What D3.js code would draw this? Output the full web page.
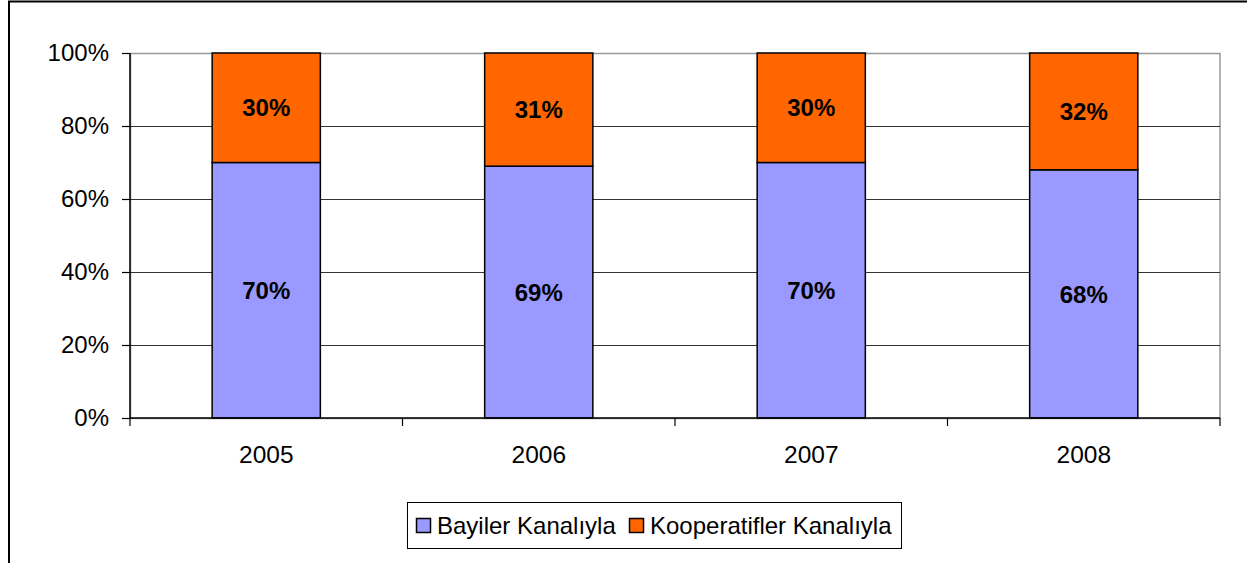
<!DOCTYPE html>
<html>
<head>
<meta charset="utf-8">
<script src="https://cdn.jsdelivr.net/npm/d3@7"></script>
<style>
  html, body { margin: 0; padding: 0; background: #fff; }
  svg { display: block; }
  text { font-family: "Liberation Sans", Arial, sans-serif; }
</style>
</head>
<body>
<svg id="chart" width="1247" height="563"></svg>
<script>
const categories = ["2005", "2006", "2007", "2008"];
const seriesNames = ["Bayiler Kanalıyla", "Kooperatifler Kanalıyla"];
const bayiler = [70, 69, 70, 68];
const kooperatifler = [30, 31, 30, 32];
const yTicks = [0, 20, 40, 60, 80, 100];
const colors = ["#9999FF", "#FF6600"];

const svg = d3.select("#chart");
const W = 1247, H = 563;

// outer frame (left and top edges visible)
svg.append("line").attr("x1", 9).attr("x2", 9).attr("y1", 1).attr("y2", H).attr("stroke", "#000").attr("stroke-width", 2);
svg.append("line").attr("x1", 8).attr("x2", W).attr("y1", 1.5).attr("y2", 1.5).attr("stroke", "#000").attr("stroke-width", 2);

const plot = { left: 130, right: 1220, top: 53, bottom: 418 };

const x = d3.scaleBand().domain(categories).range([plot.left, plot.right]).paddingInner(0).paddingOuter(0);
const y = d3.scaleLinear().domain([0, 100]).range([plot.bottom, plot.top]);
const barW = x.bandwidth() * 0.397;

// plot area border (gray)
svg.append("rect")
  .attr("x", plot.left + 0.5).attr("y", plot.top + 0.5)
  .attr("width", plot.right - plot.left - 0.5).attr("height", plot.bottom - plot.top)
  .attr("fill", "none").attr("stroke", "#999").attr("stroke-width", 1.5);

// gridlines
svg.append("g").selectAll("line").data(yTicks.filter(t => t > 0 && t < 100)).join("line")
  .attr("x1", plot.left).attr("x2", plot.right)
  .attr("y1", d => Math.round(y(d)) + 0.5).attr("y2", d => Math.round(y(d)) + 0.5)
  .attr("stroke", "#333").attr("stroke-width", 1);

// stacked data
const rows = categories.map((c, i) => ({ cat: c, Bayiler: bayiler[i], Kooperatifler: kooperatifler[i] }));
const stack = d3.stack().keys(["Bayiler", "Kooperatifler"]);
const stacked = stack(rows);

const g = svg.append("g");
stacked.forEach((layer, li) => {
  g.append("g").selectAll("rect").data(layer).join("rect")
    .attr("x", d => x(d.data.cat) + (x.bandwidth() - barW) / 2)
    .attr("y", d => y(d[1]))
    .attr("width", barW)
    .attr("height", d => y(d[0]) - y(d[1]))
    .attr("fill", colors[li])
    .attr("stroke", "#000").attr("stroke-width", 1.5);
});

// value labels
stacked.forEach((layer) => {
  g.append("g").selectAll("text").data(layer).join("text")
    .attr("x", d => x(d.data.cat) + x.bandwidth() / 2)
    .attr("y", d => (y(d[0]) + y(d[1])) / 2)
    .attr("dy", "0.36em")
    .attr("text-anchor", "middle")
    .attr("font-size", 24).attr("font-weight", "bold").attr("fill", "#000")
    .text(d => (d[1] - d[0]) + "%");
});

// y axis
const yAxis = d3.axisLeft(y).tickValues(yTicks).tickFormat(d => d + "%").tickSize(8).tickPadding(13);
const ya = svg.append("g").attr("transform", `translate(${plot.left},0)`).call(yAxis);
ya.select(".domain").attr("stroke", "#000").attr("stroke-width", 1.5).attr("d", `M0,${plot.top}V${plot.bottom}`);
ya.selectAll(".tick line").attr("stroke", "#000").attr("stroke-width", 1.2);
ya.selectAll("text").attr("font-size", 24).attr("fill", "#000").attr("font-family", "'Liberation Sans', Arial, sans-serif");

// x axis
const xAxis = d3.axisBottom(x).tickSize(0).tickPadding(28);
const xa = svg.append("g").attr("transform", `translate(0,${plot.bottom})`).call(xAxis);
xa.select(".domain").attr("stroke", "#000").attr("stroke-width", 1.5).attr("d", `M${plot.left},0H${plot.right}`);
xa.selectAll("text").attr("font-size", 24.5).attr("fill", "#000").attr("font-family", "'Liberation Sans', Arial, sans-serif").attr("dy", "0.71em");
// category boundary ticks
const bounds = categories.map(c => x(c)).concat([plot.right]);
xa.append("g").selectAll("line").data(bounds).join("line")
  .attr("x1", d => d).attr("x2", d => d).attr("y1", 0).attr("y2", 8)
  .attr("stroke", "#000").attr("stroke-width", 1.2);

// legend
const lg = svg.append("g");
lg.append("rect").attr("x", 407.5).attr("y", 502.5).attr("width", 494).attr("height", 46)
  .attr("fill", "#fff").attr("stroke", "#000").attr("stroke-width", 1);
const legendItems = [
  { name: seriesNames[0], color: colors[0], sx: 416, tx: 437 },
  { name: seriesNames[1], color: colors[1], sx: 629, tx: 650 }
];
legendItems.forEach(it => {
  lg.append("rect").attr("x", it.sx + 0.5).attr("y", 518.5).attr("width", 14).attr("height", 14)
    .attr("fill", it.color).attr("stroke", "#000").attr("stroke-width", 1.5);
  lg.append("text").attr("x", it.tx).attr("y", 525.5).attr("dy", "0.36em")
    .attr("font-size", 24).attr("fill", "#000").text(it.name);
});
</script>
</body>
</html>
